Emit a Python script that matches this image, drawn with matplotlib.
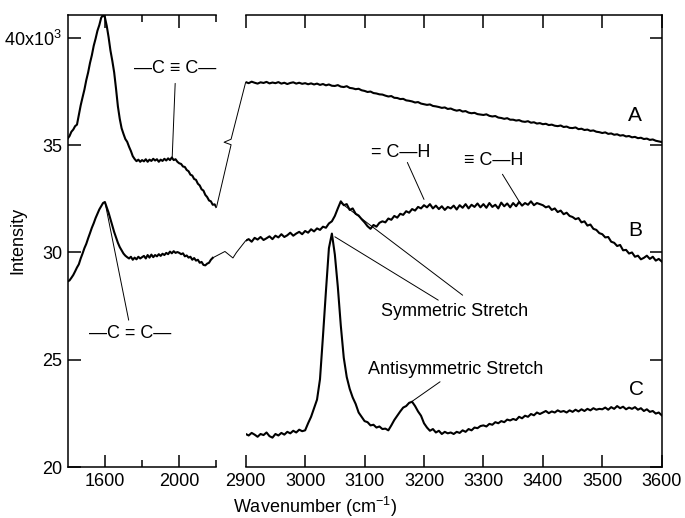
import numpy as np
import matplotlib
matplotlib.use('Agg')
from matplotlib import pyplot as plt
from matplotlib.lines import Line2D

plt.rcParams['font.family'] = ['Liberation Sans', 'DejaVu Sans']
plt.rcParams['mathtext.fontset'] = 'custom'
plt.rcParams['mathtext.rm'] = 'Liberation Sans'
plt.rcParams['mathtext.it'] = 'Liberation Sans:italic'
plt.rcParams['mathtext.bf'] = 'Liberation Sans:bold'

# wavenumber grids of the two panels
wn_low = np.arange(1400, 2201, 10)
wn_high = np.arange(2900, 3601, 5)

# spectrum A, low range (1400-2200)
a_low = [35.30, 35.42, 35.62, 35.72, 35.88, 35.95, 36.40, 36.85, 37.22, 37.58,
         38.02, 38.38, 38.82, 39.18, 39.62, 39.95, 40.32, 40.58, 40.92, 41.05,
         40.95, 40.55, 40.02, 39.40, 38.92, 38.38, 37.62, 36.80, 36.22, 35.78,
         35.52, 35.28, 35.15, 34.92, 34.72, 34.48, 34.35, 34.25, 34.32, 34.22,
         34.30, 34.24, 34.34, 34.22, 34.32, 34.26, 34.36, 34.28, 34.34, 34.22,
         34.32, 34.26, 34.36, 34.28, 34.38, 34.30, 34.42, 34.30, 34.34, 34.22,
         34.15, 34.12, 34.00, 33.98, 33.84, 33.78, 33.62, 33.58, 33.42, 33.38,
         33.20, 33.12, 32.94, 32.88, 32.68, 32.58, 32.42, 32.38, 32.22, 32.24,
         32.10]

# spectrum B, low range (1400-2180)
b_low = [28.65, 28.70, 28.82, 28.95, 29.12, 29.30, 29.45, 29.72, 29.95, 30.20,
         30.40, 30.66, 30.90, 31.15, 31.36, 31.60, 31.80, 32.00, 32.15, 32.30,
         32.35, 32.10, 31.85, 31.55, 31.25, 30.95, 30.70, 30.45, 30.25, 30.10,
         29.95, 29.85, 29.78, 29.72, 29.80, 29.66, 29.76, 29.68, 29.80, 29.72,
         29.78, 29.84, 29.72, 29.88, 29.76, 29.90, 29.78, 29.88, 29.82, 29.92,
         29.84, 29.94, 29.88, 29.98, 29.92, 30.04, 29.96, 30.06, 29.98, 30.02,
         29.98, 29.92, 29.96, 29.82, 29.86, 29.76, 29.80, 29.66, 29.74, 29.62,
         29.66, 29.52, 29.56, 29.42, 29.40, 29.48, 29.52, 29.66, 29.75]

# spectrum A, high range (2900-3600)
a_high = [37.93, 37.88, 37.95, 37.90, 37.86, 37.92, 37.89, 37.94, 37.87, 37.91,
          37.88, 37.93, 37.86, 37.90, 37.84, 37.89, 37.92, 37.86, 37.90, 37.85,
          37.88, 37.83, 37.87, 37.82, 37.86, 37.80, 37.84, 37.78, 37.82, 37.76,
          37.75, 37.79, 37.72, 37.70, 37.74, 37.66, 37.64, 37.60, 37.62, 37.55,
          37.52, 37.47, 37.49, 37.42, 37.40, 37.36, 37.35, 37.30, 37.26, 37.28,
          37.20, 37.19, 37.14, 37.15, 37.08, 37.06, 37.03, 36.98, 37.00, 36.93,
          36.90, 36.87, 36.89, 36.82, 36.80, 36.77, 36.73, 36.75, 36.68, 36.70,
          36.64, 36.60, 36.63, 36.56, 36.58, 36.51, 36.48, 36.50, 36.44, 36.42,
          36.40, 36.43, 36.36, 36.33, 36.35, 36.28, 36.26, 36.22, 36.25, 36.18,
          36.18, 36.14, 36.16, 36.10, 36.08, 36.11, 36.04, 36.06, 36.00, 36.02,
          35.97, 35.99, 35.93, 35.95, 35.90, 35.88, 35.91, 35.84, 35.86, 35.80,
          35.79, 35.82, 35.74, 35.76, 35.70, 35.72, 35.66, 35.68, 35.62, 35.60,
          35.56, 35.59, 35.52, 35.54, 35.48, 35.50, 35.44, 35.46, 35.40, 35.42,
          35.36, 35.38, 35.32, 35.34, 35.28, 35.30, 35.24, 35.26, 35.20, 35.17,
          35.14]

# spectrum B, high range
b_high = [30.55, 30.62, 30.50, 30.68, 30.60, 30.72, 30.58, 30.66, 30.75, 30.62,
          30.78, 30.70, 30.85, 30.72, 30.80, 30.92, 30.78, 30.88, 30.96, 30.85,
          31.00, 30.92, 31.08, 30.98, 31.12, 31.05, 31.20, 31.15, 31.35, 31.45,
          31.70, 32.05, 32.38, 32.20, 32.25, 31.98, 32.05, 31.80, 31.72, 31.55,
          31.40, 31.22, 31.10, 31.28, 31.20, 31.38, 31.45, 31.40, 31.58, 31.52,
          31.70, 31.62, 31.80, 31.75, 31.92, 31.85, 32.02, 31.95, 32.12, 32.05,
          32.20, 32.10, 32.25, 32.05, 32.18, 32.02, 32.15, 31.98, 32.12, 32.05,
          32.18, 32.00, 32.20, 32.08, 32.25, 32.05, 32.22, 32.12, 32.28, 32.10,
          32.25, 32.08, 32.30, 32.12, 32.22, 32.05, 32.32, 32.15, 32.28, 32.10,
          32.30, 32.15, 32.35, 32.18, 32.30, 32.22, 32.38, 32.20, 32.30, 32.25,
          32.20, 32.10, 32.15, 31.98, 32.05, 31.88, 31.95, 31.78, 31.85, 31.70,
          31.65, 31.55, 31.60, 31.40, 31.45, 31.25, 31.30, 31.10, 31.05, 30.90,
          30.85, 30.70, 30.72, 30.50, 30.45, 30.30, 30.35, 30.10, 30.12, 29.95,
          30.00, 29.80, 29.85, 29.68, 29.75, 29.85, 29.70, 29.80, 29.62, 29.70,
          29.58]

# spectrum C, high range only
c_high = [21.55, 21.48, 21.60, 21.52, 21.42, 21.55, 21.50, 21.62, 21.45, 21.38,
          21.55, 21.48, 21.60, 21.52, 21.65, 21.58, 21.70, 21.62, 21.75, 21.68,
          21.72, 22.05, 22.35, 22.75, 23.15, 24.10, 26.10, 28.20, 30.20, 30.88,
          29.90, 28.40, 26.60, 25.10, 24.20, 23.65, 23.25, 22.95, 22.55, 22.35,
          22.15, 22.10, 21.95, 21.98, 21.85, 21.90, 21.78, 21.80, 21.72, 21.95,
          22.20, 22.40, 22.60, 22.78, 22.85, 23.00, 23.05, 22.85, 22.60, 22.40,
          22.05, 21.85, 21.70, 21.78, 21.62, 21.70, 21.55, 21.65, 21.58, 21.62,
          21.55, 21.65, 21.60, 21.72, 21.65, 21.78, 21.72, 21.85, 21.82, 21.92,
          21.95, 21.90, 22.02, 21.98, 22.10, 22.05, 22.15, 22.10, 22.22, 22.18,
          22.25, 22.20, 22.35, 22.28, 22.40, 22.35, 22.48, 22.42, 22.55, 22.48,
          22.55, 22.62, 22.52, 22.60, 22.55, 22.65, 22.58, 22.62, 22.55, 22.65,
          22.58, 22.68, 22.60, 22.70, 22.62, 22.72, 22.65, 22.75, 22.68, 22.72,
          22.70, 22.78, 22.68, 22.80, 22.72, 22.85, 22.75, 22.82, 22.70, 22.78,
          22.72, 22.80, 22.68, 22.75, 22.62, 22.70, 22.58, 22.62, 22.50, 22.55,
          22.42]

y_ticks = [20, 25, 30, 35, 40]
y_tick_labels = ['20', '25', '30', '35', '40x10$^3$']
low_major = [1600, 2000]
low_minor = [1800, 2200]
high_ticks = [2900, 3000, 3100, 3200, 3300, 3400, 3500, 3600]

fig = plt.figure(figsize=(6.85, 5.18), dpi=100)
ax1 = fig.add_axes([0.0988, 0.0979, 0.2172, 0.873])
ax2 = fig.add_axes([0.3587, 0.0979, 0.6073, 0.873])

lw = 1.5
ax1.plot(wn_low, a_low, color='k', lw=lw)
ax1.plot(wn_low[:len(b_low)], b_low, color='k', lw=lw)
ax2.plot(wn_high, a_high, color='k', lw=lw)
ax2.plot(wn_high, b_high, color='k', lw=lw)
ax2.plot(wn_high, c_high, color='k', lw=lw)

for ax in (ax1, ax2):
    ax.set_ylim(20, 41.05)
    ax.set_yticks(y_ticks)
    for s in ax.spines.values():
        s.set_linewidth(1.1)
    ax.tick_params(which='both', direction='in', width=1.1, labelsize=13, pad=4)
    ax.tick_params(which='major', length=9)
    ax.tick_params(which='minor', length=5)

ax1.set_xlim(1400, 2200)
ax1.set_xticks(low_major)
ax1.set_xticks(low_minor, minor=True)
ax1.set_yticklabels(y_tick_labels)
ax1.spines['right'].set_visible(False)
ax1.tick_params(which='both', top=True, right=False)

ax2.set_xlim(2900, 3600)
ax2.set_xticks(high_ticks)
ax2.spines['left'].set_visible(False)
ax2.tick_params(which='both', top=True, left=False, right=True,
                labelleft=False, labelright=False)

# connectors across the axis break, with a small break mark
def connector(p_left, p_right, t, notch):
    p0 = ax1.transData.transform(p_left)
    p1 = ax2.transData.transform(p_right)
    a = p0 + t * (p1 - p0)
    pts = np.array([p0, a, a + notch[0], a + notch[1], p1])
    pts = fig.transFigure.inverted().transform(pts)
    fig.add_artist(Line2D(pts[:, 0], pts[:, 1], color='k', lw=0.7))

connector((wn_low[len(a_low) - 1], a_low[-1]), (wn_high[0], a_high[0]),
          0.5, [(-7, 2.5), (0, 5.5)])
connector((wn_low[len(b_low) - 1], b_low[-1]), (wn_high[0], b_high[0]),
          0.37, [(8, -6.5), (11.5, -1)])

# annotations
fs = 13
def leader(ax, p_from, p_to):
    ax.annotate('', xy=p_to, xytext=p_from,
                arrowprops=dict(arrowstyle='-', lw=0.7, color='k',
                                shrinkA=0, shrinkB=0))

ax1.text(1980, 38.57, '—C ≡ C—', fontsize=fs, ha='center', va='center')
leader(ax1, (1978, 37.87), (1962, 34.43))
ax1.text(1737, 26.25, '—C = C—', fontsize=fs, ha='center', va='center')
leader(ax1, (1728, 26.85), (1602, 32.28))

ax2.text(3161, 34.65, '= C—H', fontsize=fs, ha='center', va='center')
leader(ax2, (3172, 34.19), (3200, 32.47))
ax2.text(3318, 34.29, '≡ C—H', fontsize=fs, ha='center', va='center')
leader(ax2, (3332, 33.64), (3362, 32.29))

ax2.text(3252, 27.24, 'Symmetric Stretch', fontsize=fs, ha='center', va='center')
leader(ax2, (3061, 32.29), (3265, 28.01))
leader(ax2, (3050, 30.73), (3224, 27.78))
ax2.text(3254, 24.53, 'Antisymmetric Stretch', fontsize=fs, ha='center', va='center')
leader(ax2, (3227, 23.98), (3179, 23.05))

ax2.text(3555, 36.38, 'A', fontsize=15, ha='center', va='center')
ax2.text(3555, 31.04, 'B', fontsize=15, ha='center', va='center')
ax2.text(3558, 23.6, 'C', fontsize=15, ha='center', va='center')

fig.text(18 / 685, 1 - 240 / 518, 'Intensity', rotation=90, fontsize=13,
         ha='center', va='center')
fig.text(315 / 685, 1 - 507 / 518, 'Wavenumber (cm$^{-1}$)', fontsize=13,
         ha='center', va='center')

fig.savefig('out.png', dpi=100)
